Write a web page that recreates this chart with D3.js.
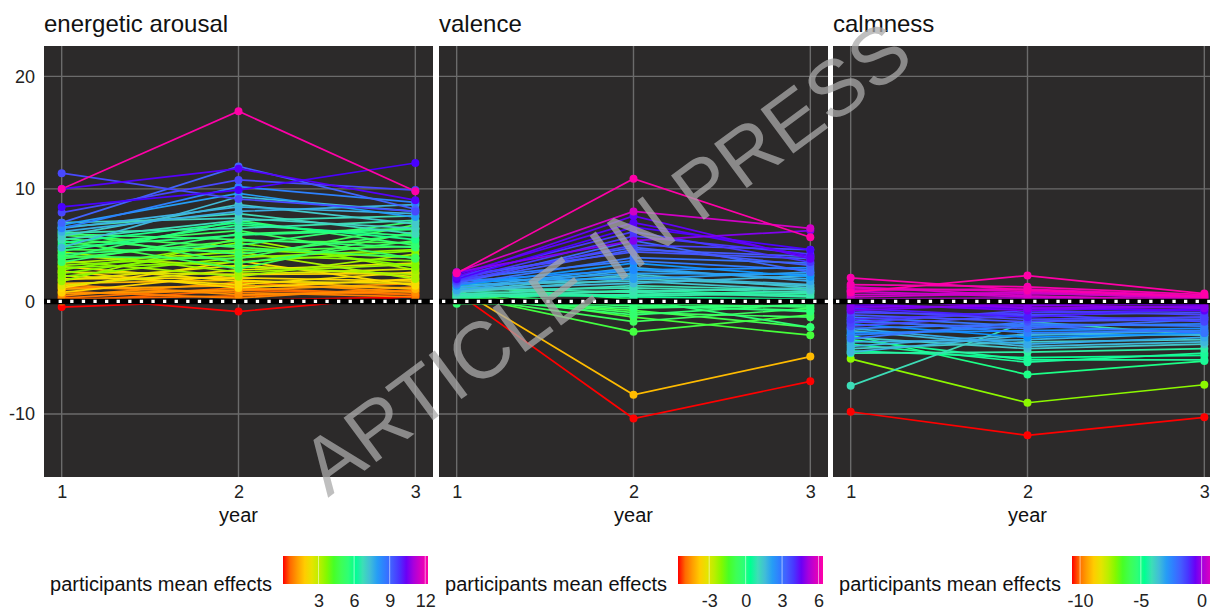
<!DOCTYPE html>
<html>
<head>
<meta charset="utf-8">
<script src="https://cdn.jsdelivr.net/npm/d3@7"></script>
<style>
  body { margin: 0; background: #fff; }
  svg text { font-family: "Liberation Sans", Arial, sans-serif; }
</style>
</head>
<body>
<div id="chart"></div>
<script>
// --- Data ---
const years = [1, 2, 3];
const panelTitles = ["energetic arousal", "valence", "calmness"];
const yTicks = [-10, 0, 10, 20];
const legendTitle = "participants mean effects";
const legendTicks = [[3, 6, 9, 12], [-3, 0, 3, 6], [-10, -5, 0]];
const rainbowColours = ["#FF0000", "#FFDB00", "#49FF00", "#00FF92", "#0092FF", "#4900FF", "#FF00A8"];

// each row = one participant: value at year 1, 2, 3
const arousalLines = [
  [10.0, 16.9, 9.8], [11.4, 9.1, 8.0], [10.0, 11.8, 9.0], [8.4, 9.9, 12.3],
  [7.0, 12.0, 8.2], [7.9, 10.8, 9.9], [6.5, 10.2, 8.8],
  [-0.5, 0.1, 0.4], [0.4, -0.9, 0.5], [0.0, 1.0, 0.6],
  [6.8, 9.6, 7.5], [6.5, 8.4, 7.8], [6.2, 8.0, 8.6], [7.0, 7.4, 6.5],
  [5.8, 8.6, 6.9], [6.6, 7.8, 6.0], [5.5, 7.2, 7.6], [6.1, 6.5, 7.2], [4.8, 9.3, 8.0],
  [5.2, 7.0, 5.5], [4.5, 6.8, 5.8], [6.0, 5.5, 4.8], [4.8, 5.9, 6.4], [3.9, 7.2, 5.0],
  [5.6, 4.2, 6.0], [4.2, 5.0, 7.1], [5.0, 6.3, 3.8], [3.5, 6.0, 6.5], [4.6, 4.5, 4.9],
  [5.9, 4.8, 3.9], [3.8, 5.4, 5.2], [6.3, 3.4, 5.4], [4.0, 3.8, 6.8], [5.4, 2.9, 6.2],
  [3.2, 4.1, 3.6], [2.8, 5.2, 3.1], [4.4, 2.6, 3.3], [3.0, 3.5, 4.5], [2.5, 4.6, 3.9],
  [3.6, 2.2, 4.2], [1.8, 5.6, 2.8], [4.1, 3.1, 2.4], [2.2, 3.9, 4.6], [3.4, 4.4, 2.0],
  [2.6, 2.4, 2.9], [1.9, 3.2, 2.2], [3.1, 1.8, 1.6], [1.4, 2.8, 3.4], [2.3, 1.5, 2.6],
  [2.0, 2.1, 1.8], [1.2, 3.6, 1.4], [2.7, 1.2, 2.0], [0.8, 2.4, 2.5], [1.6, 1.9, 1.1],
  [1.1, 1.4, 1.2], [0.7, 1.0, 1.6], [1.5, 0.6, 0.9], [0.5, 1.7, 0.8], [0.9, 0.3, 1.3],
  [0.3, 1.2, 0.6], [1.3, 0.8, 0.4], [0.2, 0.5, 1.0]
];

const valenceLines = [
  [2.5, 10.9, 5.7], [2.6, 8.0, 6.5], [2.2, 7.6, 3.8],
  [0.8, -10.4, -7.1], [1.2, -8.3, -4.9],
  [0.6, -2.7, -1.2], [0.4, -1.8, -0.6], [0.8, -1.4, -3.0], [0.3, -0.8, -2.3],
  [0.5, -1.0, -1.4], [0.2, -0.4, -0.8], [0.1, -0.6, -0.3], [-0.2, -0.2, -0.5],
  [0.7, -0.3, -0.9], [0.4, -1.2, -0.2],
  [2.4, 7.0, 4.0], [2.0, 6.6, 4.6], [2.2, 6.2, 3.5], [1.9, 5.8, 4.2], [2.6, 5.4, 6.3],
  [1.8, 5.0, 4.6], [2.1, 4.8, 3.2], [1.6, 5.4, 2.6], [2.3, 4.4, 3.8], [1.7, 4.6, 4.0],
  [1.5, 3.9, 3.4], [2.0, 3.6, 2.8],
  [1.4, 3.4, 2.2], [1.8, 2.8, 3.0], [1.2, 3.0, 1.8], [1.6, 2.5, 2.4], [1.0, 2.8, 2.0],
  [1.3, 2.2, 1.5], [1.9, 2.0, 2.6], [0.9, 2.4, 1.2], [1.5, 1.8, 1.0], [1.1, 1.6, 2.3],
  [0.8, 2.0, 1.4],
  [1.0, 1.2, 0.8], [0.6, 1.4, 1.0], [1.2, 0.8, 0.4], [0.5, 0.9, 1.2], [0.9, 0.5, 0.7],
  [0.3, 1.0, 0.5], [0.7, 0.4, 0.2], [0.4, 0.6, 0.9], [1.4, 0.2, -2.3]
];

const calmnessLines = [
  [-9.8, -11.9, -10.3], [-5.1, -9.0, -7.4], [-7.5, -1.8, -3.0], [-3.0, -6.5, -5.3],
  [-3.8, -5.4, -4.6], [-4.4, -5.0, -4.8], [-3.4, -5.2, -5.2], [-4.6, -4.5, -4.2],
  [-4.2, -3.6, -3.4], [-3.2, -4.2, -3.8], [-4.0, -2.9, -3.0], [-2.6, -4.0, -3.6],
  [-3.6, -3.4, -2.8], [-2.4, -3.8, -3.2], [-4.5, -3.0, -2.6],
  [-2.8, -2.6, -2.4], [-2.0, -3.2, -2.8], [-3.0, -2.2, -2.0], [-1.6, -2.8, -2.6],
  [-2.4, -2.0, -2.2], [-1.8, -2.4, -1.6], [-3.3, -1.8, -1.4], [-1.4, -2.2, -2.8],
  [-1.2, -1.8, -1.6], [-2.2, -1.2, -1.0], [-0.8, -1.6, -1.4], [-1.6, -1.0, -0.8],
  [-1.0, -1.2, -1.8], [-0.6, -1.4, -0.6], [-1.9, -0.8, -1.2],
  [-0.4, -0.6, -0.8], [-0.2, -0.8, -0.4], [-0.8, -0.2, -0.3], [0.2, -0.6, -0.5],
  [-0.5, -0.4, -0.1], [0.0, -0.3, -0.6],
  [2.1, 1.0, 0.4], [0.8, 2.3, 0.7], [1.5, 1.3, 0.6], [1.2, 0.9, 0.3], [1.0, 1.1, 0.5],
  [0.6, 0.8, 0.2], [1.3, 0.5, 0.1], [0.4, 0.7, 0.4], [0.9, 0.4, 0.2], [0.2, 0.3, 0.1]
];

const panelData = [arousalLines, valenceLines, calmnessLines];

// --- Layout ---
const W = 1210, H = 610;
const panelLeft = [44, 439, 833];
const panelW = 389, panelTop = 46, panelBottom = 477;
const barW = 145, barTop = 556, barH = 28;

const svg = d3.select("#chart").append("svg")
  .attr("width", W)
  .attr("height", H);

const x = d3.scaleLinear().domain([0.9, 3.1]).range([0, panelW]);
const y = d3.scaleLinear().domain([-15.6, 22.7]).range([panelBottom, panelTop]);

const defs = svg.append("defs");
const mean = d => d3.mean(d);
const plainFormat = d => String(d); // keep ascii hyphen like the original

panelData.forEach((rows, p) => {
  const g = svg.append("g").attr("transform", `translate(${panelLeft[p]},0)`);

  // colour scale from participants' mean effect
  const ext = d3.extent(rows, mean);
  const colour = d3.scaleLinear()
    .domain(rainbowColours.map((c, i) => ext[0] + i * (ext[1] - ext[0]) / (rainbowColours.length - 1)))
    .range(rainbowColours)
    .interpolate(d3.interpolateLab);

  defs.append("clipPath").attr("id", "clip" + p)
    .append("rect").attr("x", 0).attr("y", panelTop)
    .attr("width", panelW).attr("height", panelBottom - panelTop);

  g.append("rect")
    .attr("x", 0).attr("y", panelTop)
    .attr("width", panelW).attr("height", panelBottom - panelTop)
    .attr("fill", "#2c2a2a");

  // grid
  g.selectAll("line.hgrid").data(yTicks).join("line")
    .attr("class", "hgrid")
    .attr("x1", 0).attr("x2", panelW)
    .attr("y1", d => y(d)).attr("y2", d => y(d))
    .attr("stroke", "#6b6b6b").attr("stroke-width", 1.4);
  g.selectAll("line.vgrid").data(years).join("line")
    .attr("class", "vgrid")
    .attr("x1", d => x(d)).attr("x2", d => x(d))
    .attr("y1", panelTop).attr("y2", panelBottom)
    .attr("stroke", "#6b6b6b").attr("stroke-width", 1.4);

  const plot = g.append("g").attr("clip-path", `url(#clip${p})`);
  const sorted = rows.slice().sort((a, b) => mean(a) - mean(b));

  const line = d3.line().x((d, i) => x(years[i])).y(d => y(d));
  plot.selectAll("path.participant").data(sorted).join("path")
    .attr("class", "participant")
    .attr("d", line)
    .attr("fill", "none")
    .attr("stroke", d => colour(mean(d)))
    .attr("stroke-width", 1.7);

  sorted.forEach(row => {
    plot.append("g").selectAll("circle").data(row).join("circle")
      .attr("cx", (d, i) => x(years[i]))
      .attr("cy", d => y(d))
      .attr("r", 4)
      .attr("fill", colour(mean(row)));
  });

  // dotted zero line
  plot.append("line")
    .attr("x1", 0).attr("x2", panelW).attr("y1", y(0)).attr("y2", y(0))
    .attr("stroke", "#000").attr("stroke-width", 5.5);
  plot.append("line")
    .attr("x1", 3).attr("x2", panelW).attr("y1", y(0)).attr("y2", y(0))
    .attr("stroke", "#fff").attr("stroke-width", 3.2)
    .attr("stroke-dasharray", "3.3 8.3");

  // title
  g.append("text")
    .attr("x", 0).attr("y", 32)
    .attr("font-size", 24)
    .attr("fill", "#111")
    .text(panelTitles[p]);

  // x axis
  const xAxis = g.append("g")
    .attr("transform", `translate(0,${panelBottom})`)
    .call(d3.axisBottom(x).tickValues(years).tickSize(0).tickPadding(8).tickFormat(d3.format("d")));
  xAxis.select(".domain").remove();
  xAxis.selectAll("text").attr("font-size", 18).attr("fill", "#222");
  g.append("text")
    .attr("x", x(2)).attr("y", 522)
    .attr("text-anchor", "middle")
    .attr("font-size", 20)
    .attr("fill", "#111")
    .text("year");

  if (p === 0) {
    const yAxis = g.append("g")
      .call(d3.axisLeft(y).tickValues(yTicks).tickSize(0).tickPadding(9).tickFormat(plainFormat));
    yAxis.select(".domain").remove();
    yAxis.selectAll("text").attr("font-size", 18).attr("fill", "#222");
  }

  // legend colour bar
  const barX = 239;
  const lScale = d3.scaleLinear().domain(ext).range([barX, barX + barW]);
  const grad = defs.append("linearGradient").attr("id", "grad" + p)
    .attr("x1", "0%").attr("x2", "100%").attr("y1", "0%").attr("y2", "0%");
  d3.range(0, 1.0001, 0.05).forEach(t => {
    grad.append("stop")
      .attr("offset", (t * 100) + "%")
      .attr("stop-color", colour(ext[0] + t * (ext[1] - ext[0])));
  });
  g.append("rect")
    .attr("x", barX).attr("y", barTop)
    .attr("width", barW).attr("height", barH)
    .attr("fill", `url(#grad${p})`);
  g.selectAll("line.ltick").data(legendTicks[p]).join("line")
    .attr("class", "ltick")
    .attr("x1", d => lScale(d)).attr("x2", d => lScale(d))
    .attr("y1", barTop).attr("y2", barTop + barH)
    .attr("stroke", "#fff").attr("stroke-opacity", 0.55).attr("stroke-width", 1);

  const lAxis = g.append("g")
    .attr("transform", `translate(0,${barTop + barH})`)
    .call(d3.axisBottom(lScale).tickValues(legendTicks[p]).tickSize(0).tickPadding(10).tickFormat(plainFormat));
  lAxis.select(".domain").remove();
  lAxis.selectAll("text").attr("font-size", 18).attr("fill", "#222");

  g.append("text")
    .attr("x", 228).attr("y", 591)
    .attr("text-anchor", "end")
    .attr("font-size", 20)
    .attr("fill", "#111")
    .text(legendTitle);
});

// watermark
svg.append("text")
  .attr("transform", "translate(606,258) rotate(-36.5)")
  .attr("text-anchor", "middle")
  .attr("dominant-baseline", "central")
  .attr("font-size", 80)
  .attr("fill", "#aaaaaa")
  .attr("fill-opacity", 0.75)
  .text("ARTICLE IN PRESS");
</script>
</body>
</html>
